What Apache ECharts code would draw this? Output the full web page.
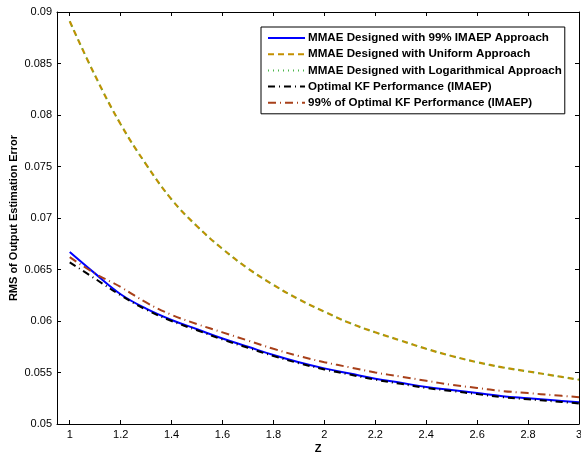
<!DOCTYPE html>
<html>
<head>
<meta charset="utf-8">
<script src="https://cdn.jsdelivr.net/npm/echarts@6/dist/echarts.min.js"></script>
<style>
  html, body { margin: 0; padding: 0; background: #fff; }
  #chart { width: 581px; height: 455px; }
</style>
</head>
<body>
<div id="chart"></div>
<script>
// values
var zValues = [1.0, 1.1, 1.2, 1.3, 1.4, 1.5, 1.6, 1.7, 1.8, 1.9, 2.0,
               2.1, 2.2, 2.3, 2.4, 2.5, 2.6, 2.7, 2.8, 2.9, 3.0];
var mmae99 = [0.0667, 0.0646, 0.0626, 0.0612, 0.0601, 0.0592, 0.0583, 0.0575, 0.0567, 0.0560, 0.0554,
              0.0549, 0.0544, 0.0540, 0.0536, 0.0533, 0.0530, 0.0527, 0.0525, 0.0523, 0.0521];
var mmaeUniform = [0.0891, 0.0838, 0.0791, 0.0752, 0.0718, 0.0692, 0.0670, 0.0651, 0.0635, 0.0621, 0.0609,
                   0.0598, 0.0589, 0.0581, 0.0573, 0.0566, 0.0560, 0.0555, 0.0551, 0.0547, 0.0543];
var mmaeLog = [0.0891, 0.0838, 0.0791, 0.0752, 0.0718, 0.0692, 0.0670, 0.0651, 0.0635, 0.0621, 0.0609,
               0.0598, 0.0589, 0.0581, 0.0573, 0.0566, 0.0560, 0.0555, 0.0551, 0.0547, 0.0543];
var optimalKF = [0.0657, 0.0641, 0.0625, 0.0611, 0.0600, 0.0591, 0.0582, 0.0574, 0.0566, 0.0559, 0.0553,
                 0.0548, 0.0543, 0.0539, 0.0535, 0.0532, 0.0529, 0.0526, 0.0524, 0.0522, 0.0520];
var optimal99 = [0.0662, 0.0646, 0.0633, 0.0618, 0.0606, 0.0597, 0.0589, 0.0581, 0.0573, 0.0566, 0.0560,
                 0.0555, 0.0550, 0.0546, 0.0542, 0.0538, 0.0535, 0.0532, 0.0530, 0.0528, 0.0526];
var xTicks = [1, 1.2, 1.4, 1.6, 1.8, 2, 2.2, 2.4, 2.6, 2.8, 3];
var seriesNames = [
  'MMAE Designed with 99% IMAEP Approach',
  'MMAE Designed with Uniform Approach',
  'MMAE Designed with Logarithmical Approach',
  'Optimal KF Performance (IMAEP)',
  '99% of Optimal KF Performance (IMAEP)'
];

var font = 'Liberation Sans, Arial, sans-serif';

function pairs(ys) {
  return zValues.map(function (z, i) { return [z, ys[i]]; });
}

function lineSeries(name, ys, color, width, dash) {
  return {
    name: name,
    type: 'line',
    data: pairs(ys),
    smooth: 0.4,
    symbol: 'none',
    showSymbol: false,
    animation: false,
    lineStyle: { color: color, width: width, type: dash },
    itemStyle: { color: color }
  };
}

var chart = echarts.init(document.getElementById('chart'));

// x axis starts a bit before 1, like the original figure
var xBase = {
  type: 'value',
  min: 0.95,
  max: 3,
  splitLine: { show: false },
  axisLine: { onZero: false, lineStyle: { color: '#000', width: 1 } },
  axisTick: { inside: true, length: 4, customValues: xTicks, lineStyle: { color: '#000' } }
};
var yBase = {
  type: 'value',
  min: 0.05,
  max: 0.09,
  interval: 0.005,
  splitLine: { show: false },
  axisLine: { onZero: false, lineStyle: { color: '#000', width: 1 } },
  axisTick: { inside: true, length: 4, lineStyle: { color: '#000' } }
};

var option = {
  backgroundColor: '#fff',
  grid: { left: 57, right: 2, top: 12, bottom: 31, containLabel: false, outerBoundsMode: 'none' },
  xAxis: [
    Object.assign({}, xBase, {
      position: 'bottom',
      name: 'Z',
      nameLocation: 'middle',
      nameGap: 19,
      nameMoveOverlap: false,
      nameTextStyle: { fontFamily: font, fontSize: 11, fontWeight: 'bold', color: '#000' },
      axisLabel: { customValues: xTicks, fontFamily: font, fontSize: 11, color: '#000', margin: 5 }
    }),
    Object.assign({}, xBase, { position: 'top', axisLabel: { show: false } })
  ],
  yAxis: [
    Object.assign({}, yBase, {
      position: 'left',
      name: 'RMS of Output Estimation Error',
      nameLocation: 'middle',
      nameGap: 38,
      nameMoveOverlap: false,
      nameTextStyle: { fontFamily: font, fontSize: 11, fontWeight: 'bold', color: '#000' },
      axisLabel: { fontFamily: font, fontSize: 11, color: '#000', margin: 5 }
    }),
    Object.assign({}, yBase, { position: 'right', axisLabel: { show: false } })
  ],
  legend: {
    orient: 'vertical',
    left: 261,
    top: 27,
    padding: [5, 3, 5, 6],
    itemWidth: 37,
    itemHeight: 12,
    itemGap: 4.2,
    backgroundColor: '#fff',
    borderColor: '#000',
    borderWidth: 1,
    borderRadius: 0,
    selectedMode: false,
    itemStyle: { opacity: 0 },
    textStyle: { fontFamily: font, fontSize: 11.6, fontWeight: 'bold', color: '#000', padding: [0, 0, 0, -2] },
    data: seriesNames
  },
  series: [
    lineSeries(seriesNames[0], mmae99, '#0000ff', 2, 'solid'),
    lineSeries(seriesNames[1], mmaeUniform, '#c39000', 2.2, [6, 4]),
    lineSeries(seriesNames[2], mmaeLog, '#4cb84c', 1.2, [1, 4]),
    lineSeries(seriesNames[3], optimalKF, '#000000', 2, [7, 4, 1, 4]),
    lineSeries(seriesNames[4], optimal99, '#a8401a', 2, [8, 4, 1, 4])
  ]
};

chart.setOption(option);
</script>
</body>
</html>
